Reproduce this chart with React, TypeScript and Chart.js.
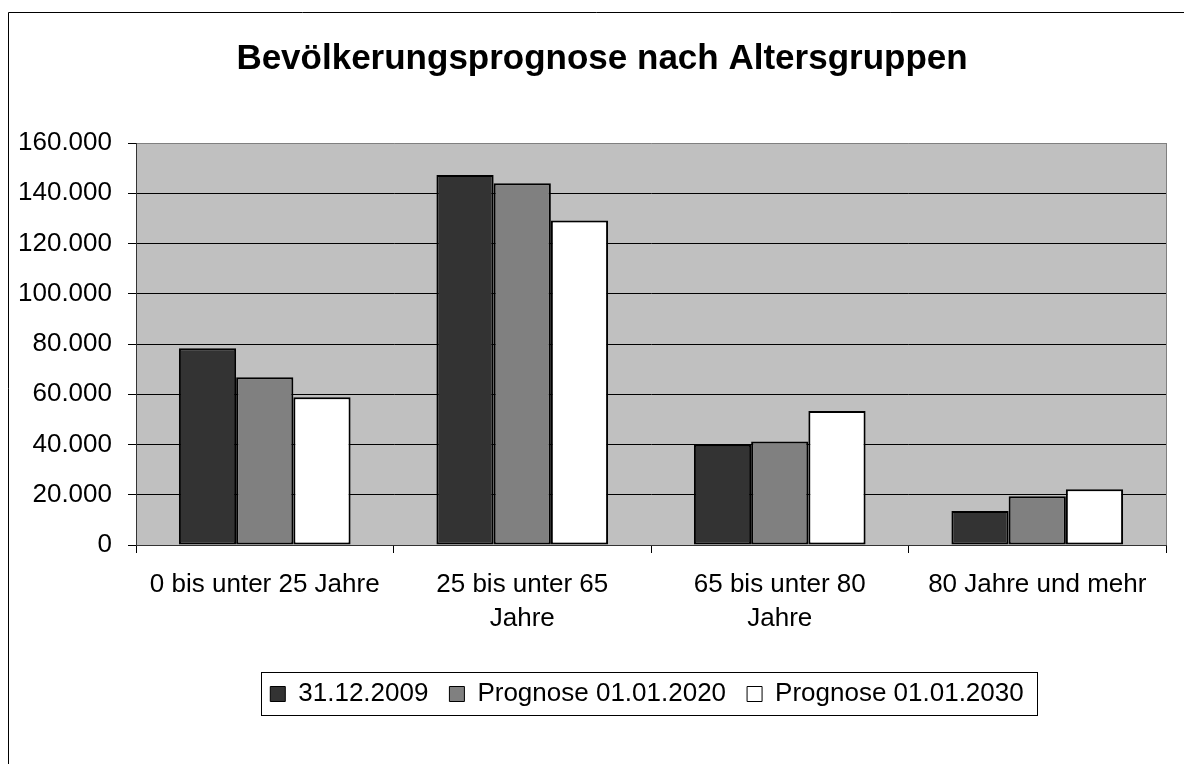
import React, { useEffect, useRef } from "react";
import { Chart, registerables } from "chart.js";

Chart.register(...registerables);

const chartTitle = "Bevölkerungsprognose nach Altersgruppen";
const categories: (string | string[])[] = [
  "0 bis unter 25 Jahre",
  ["25 bis unter 65", "Jahre"],
  ["65 bis unter 80", "Jahre"],
  "80 Jahre und mehr",
];
const seriesNames = ["31.12.2009", "Prognose 01.01.2020", "Prognose 01.01.2030"];
const values2009 = [78300, 147300, 39900, 13500];
const values2020 = [66800, 144000, 41200, 19400];
const values2030 = [58800, 129200, 53300, 22200];
const seriesColors = ["#333333", "#808080", "#FFFFFF"];
const yMin = 0;
const yMax = 160000;
const yStep = 20000;

const FONT = "'Liberation Sans', Arial, Helvetica, sans-serif";

const fmt = (v: number) => String(v).replace(/\B(?=(\d{3})+(?!\d))/g, ".");

const decorPlugin = {
  id: "decor",
  afterLayout(chart: any) {
    const lg = chart.legend;
    if (lg) {
      lg.left += 64;
      lg.right += 64;
    }
    const tb = chart.titleBlock;
    if (tb) {
      tb.left += 19;
      tb.right += 19;
    }
  },
  beforeDraw(chart: any) {
    const { ctx, chartArea: a } = chart;
    ctx.save();
    ctx.fillStyle = "#FFFFFF";
    ctx.fillRect(0, 0, chart.width, chart.height);
    ctx.fillStyle = "#C0C0C0";
    ctx.fillRect(a.left, a.top, a.right - a.left, a.bottom - a.top);
    ctx.restore();
  },
  afterDatasetsDraw(chart: any) {
    const { ctx, chartArea: a } = chart;
    ctx.save();
    ctx.strokeStyle = "#808080";
    ctx.lineWidth = 1;
    ctx.beginPath();
    ctx.moveTo(Math.round(a.right) + 0.5, a.top);
    ctx.lineTo(Math.round(a.right) + 0.5, a.bottom);
    ctx.stroke();
    ctx.restore();
  },
  afterDraw(chart: any) {
    const { ctx } = chart;
    ctx.save();
    ctx.strokeStyle = "#000000";
    ctx.lineWidth = 1;
    ctx.beginPath();
    ctx.moveTo(8.5, 3000);
    ctx.lineTo(8.5, 12.5);
    ctx.lineTo(3000, 12.5);
    ctx.stroke();
    const hb = chart.legend && chart.legend.legendHitBoxes;
    if (hb && hb.length) {
      const first = hb[0];
      const last = hb[hb.length - 1];
      const cy = first.top + first.height / 2;
      const left = Math.round(first.left - 9) + 0.5;
      const right = Math.round(last.left + last.width + 13) + 0.5;
      const top = Math.round(cy - 22) + 0.5;
      const bottom = Math.round(cy + 21) + 0.5;
      ctx.strokeRect(left, top, right - left, bottom - top);
    }
    ctx.restore();
  },
};

export default function App() {
  const canvasRef = useRef<HTMLCanvasElement | null>(null);

  useEffect(() => {
    if (!canvasRef.current) return;
    const datasets = [values2009, values2020, values2030].map((vals, i) => ({
      label: seriesNames[i],
      data: vals,
      backgroundColor: seriesColors[i],
      borderColor: "#000000",
      borderWidth: 2,
      borderSkipped: false as const,
      categoryPercentage: 3 / 4.5,
      barPercentage: 1,
    }));
    const chart = new Chart(canvasRef.current, {
      type: "bar",
      data: { labels: categories, datasets },
      plugins: [decorPlugin],
      options: {
        responsive: false,
        animation: false,
        devicePixelRatio: 1,
        color: "#000",
        layout: { padding: { left: 0, right: 18, top: 0, bottom: 47 } },
        plugins: {
          title: {
            display: true,
            text: chartTitle,
            color: "#000",
            font: { family: FONT, size: 35, weight: "bold", lineHeight: 1.2 },
            padding: { top: 38, bottom: 63 },
          },
          legend: {
            display: true,
            position: "bottom",
            labels: {
              color: "#000",
              font: { family: FONT, size: 26 },
              boxWidth: 15,
              boxHeight: 15,
              padding: 21,
              generateLabels: (chart: any) => {
                const items = Chart.defaults.plugins.legend.labels.generateLabels(chart);
                return items.map((it: any) => ({ ...it, lineWidth: 1, strokeStyle: "#000" }));
              },
            },
          },
          tooltip: { enabled: false },
        },
        scales: {
          x: {
            offset: true,
            grid: {
              display: true,
              offset: true,
              drawOnChartArea: false,
              drawTicks: true,
              tickLength: 8,
              color: "#000",
              tickColor: "#000",
            },
            border: { display: true, color: "#333", width: 1 },
            ticks: {
              color: "#000",
              font: { family: FONT, size: 26, lineHeight: 34 / 26 },
              padding: 15,
              maxRotation: 0,
              autoSkip: false,
            },
            afterFit: (scale: any) => {
              scale.height = 115;
            },
          },
          y: {
            min: yMin,
            max: yMax,
            grid: {
              display: true,
              drawTicks: true,
              tickLength: 8,
              color: (c: any) => (c.tick && c.tick.value === yMax ? "#808080" : "#000"),
              tickColor: "#000",
              lineWidth: 1,
            },
            border: { display: true, color: "#333", width: 1 },
            ticks: {
              stepSize: yStep,
              color: "#000",
              font: { family: FONT, size: 26 },
              padding: 16,
              callback: (v: any) => fmt(Number(v)),
            },
            afterFit: (scale: any) => {
              scale.width = 136;
            },
          },
        },
      },
    });
    return () => chart.destroy();
  }, []);

  return (
    <div style={{ position: "fixed", left: 0, top: 0, width: 1184, height: 764, background: "#fff" }}>
      <canvas ref={canvasRef} width={1184} height={764} style={{ display: "block" }} />
    </div>
  );
}
